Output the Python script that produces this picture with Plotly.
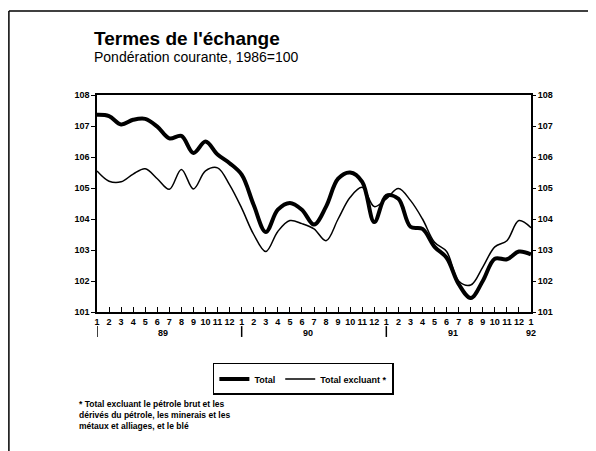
import plotly.graph_objects as go

# Month index 0 = Jan 1989 ... 36 = Jan 1992
month_labels = [str(m) for m in range(1, 13)] * 3 + ["1"]
year_labels = ["89", "90", "91", "92"]
year_label_pos = [5.5, 17.5, 29.5, 36]
year_start_pos = [0, 12, 24, 36]

total = [107.36, 107.32, 107.05, 107.2, 107.23, 106.98, 106.6, 106.68, 106.13, 106.5,
         106.08, 105.8, 105.43, 104.45, 103.58, 104.3, 104.52, 104.3, 103.82, 104.4,
         105.3, 105.5, 105.2, 103.9, 104.75, 104.65, 103.75, 103.68, 103.1, 102.75,
         101.9, 101.45, 102.0, 102.72, 102.7, 102.95, 102.86]
total_excl = [105.55, 105.22, 105.2, 105.45, 105.62, 105.3, 104.96, 105.6, 104.97, 105.55,
              105.65, 105.1, 104.35, 103.5, 102.95, 103.6, 103.95, 103.85, 103.68, 103.3,
              104.0, 104.7, 105.02, 104.4, 104.65, 104.98, 104.6, 104.0, 103.25, 102.95,
              102.0, 101.87, 102.45, 103.1, 103.3, 103.95, 103.72]

months = list(range(len(total)))
yticks = [101, 102, 103, 104, 105, 106, 107, 108]

FONT = "Liberation Sans"

fig = go.Figure()
fig.add_trace(go.Scatter(x=months, y=total, mode="lines", name="Total",
                         line=dict(color="black", width=4, shape="spline", smoothing=1)))
fig.add_trace(go.Scatter(x=months, y=total_excl, mode="lines", name="Total excluant *",
                         line=dict(color="black", width=1.5, shape="spline", smoothing=1)))
# invisible trace to display right axis
fig.add_trace(go.Scatter(x=months, y=total, mode="lines", yaxis="y2", showlegend=False,
                         hoverinfo="skip", line=dict(color="rgba(0,0,0,0)", width=0)))

fig.update_layout(
    width=588, height=443,
    margin=dict(l=89, r=65, t=87, b=139),
    paper_bgcolor="white", plot_bgcolor="white",
    font=dict(family=FONT, color="black"),
    showlegend=True,
    legend=dict(orientation="h", x=0.267, y=-0.235, xanchor="left", yanchor="top",
                bordercolor="black", borderwidth=1.5, bgcolor="white",
                font=dict(family=FONT, size=9, weight="bold"),
                itemwidth=30, tracegroupgap=0),
    xaxis=dict(range=[0, 36], tickvals=months, ticktext=month_labels,
               ticks="inside", ticklen=5, tickwidth=1, tickcolor="black",
               showline=True, linecolor="black", linewidth=1.5, mirror=True,
               showgrid=False, zeroline=False, tickangle=0,
               tickfont=dict(family=FONT, size=9, weight="bold")),
    yaxis=dict(range=[101, 108], tickvals=yticks, ticks="outside", ticklen=4,
               tickcolor="black", showline=True, linecolor="black", linewidth=1.5,
               mirror=True, showgrid=False, zeroline=False,
               tickfont=dict(family=FONT, size=9, weight="bold")),
    yaxis2=dict(range=[101, 108], tickvals=yticks, overlaying="y", side="right",
                ticks="outside", ticklen=4, tickcolor="black", showgrid=False,
                zeroline=False, showline=False,
                tickfont=dict(family=FONT, size=9, weight="bold")),
)

# titles
fig.add_annotation(text="<b>Termes de l'échange</b>", xref="paper", yref="paper",
                   x=-0.012, y=1.205, xanchor="left", yanchor="bottom", showarrow=False,
                   font=dict(family=FONT, size=19, color="black"))
fig.add_annotation(text="Pondération courante, 1986=100", xref="paper", yref="paper",
                   x=-0.012, y=1.13, xanchor="left", yanchor="bottom", showarrow=False,
                   font=dict(family=FONT, size=14, color="black"))

# year labels and markers
for pos, lab in zip(year_label_pos, year_labels):
    fig.add_annotation(text=lab, x=pos, xref="x", yref="paper", y=-0.095,
                       xanchor="center", yanchor="middle", showarrow=False,
                       font=dict(family=FONT, size=9, weight="bold", color="black"))
for pos in year_start_pos[:3]:
    fig.add_shape(type="line", xref="x", yref="paper", x0=pos, x1=pos,
                  y0=-0.065, y1=-0.115, line=dict(color="black", width=1.5))

# footnote
fig.add_annotation(text="* Total excluant le pétrole brut et les<br>dérivés du pétrole, les minerais et les<br>métaux et alliages, et le blé",
                   xref="paper", yref="paper", x=-0.045, y=-0.39, xanchor="left",
                   yanchor="top", align="left", showarrow=False,
                   font=dict(family=FONT, size=8.5, weight="bold", color="black"))

# outer frame (left and top)
fig.add_shape(type="line", xref="paper", yref="paper", x0=-0.203, x1=-0.203,
              y0=1.387, y1=-0.65, line=dict(color="black", width=1.5))
fig.add_shape(type="line", xref="paper", yref="paper", x0=-0.203, x1=1.16,
              y0=1.387, y1=1.387, line=dict(color="black", width=1.5))

fig.write_html("out.html")
